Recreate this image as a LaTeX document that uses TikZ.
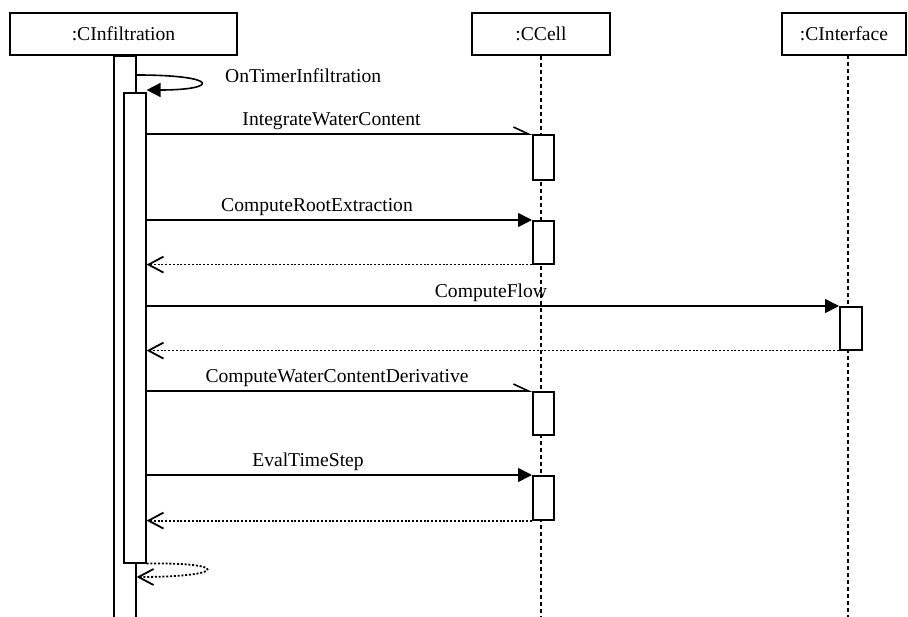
\documentclass[tikz,border=0pt]{standalone}
\usepackage{fontspec}
\setmainfont{Liberation Serif}
\usetikzlibrary{arrows.meta}
\begin{document}
\begin{tikzpicture}[x=1pt,y=-1pt,line width=1.6pt,
  obj/.style={draw,line width=1.8pt,minimum height=42pt,inner sep=0pt,font=\fontsize{19.6}{22}\selectfont},
  act/.style={draw,fill=white,line width=1.6pt,inner sep=0pt,anchor=north west},
  msg/.style={font=\fontsize{19.6}{22}\selectfont,anchor=base},
  life/.style={line width=1.6pt,dash pattern=on 4pt off 3pt},
  call/.style={-{Triangle[length=14pt,width=14pt]}},
  async/.style={-{Straight Barb[left,length=15pt,width=14pt]}},
  ret/.style={line width=1.8pt,dash pattern=on 2pt off 1.8pt,-{Straight Barb[length=15pt,width=16pt]}}]
\useasboundingbox (0,0) rectangle (908,617);
\clip (0,0) rectangle (908,617);
% objects
\node[obj,minimum width=227pt] (inf) at (123.5,34) {:CInfiltration};
\node[obj,minimum width=138pt] (cell) at (541,34) {:CCell};
\node[obj,minimum width=124pt] (itf) at (844,34) {:CInterface};
% lifelines
\draw[life] (cell.south) -- (cell.south |- 0,620);
\coordinate (itfl) at (848,55);
\draw[life] (itfl) -- (itfl |- 0,620);
% activation bars
\node[act,minimum width=22pt,minimum height=575pt] (outer) at (113,55) {};
\node[act,minimum width=22pt,minimum height=470pt] (inner) at (123,92) {};
\node[act,minimum width=21pt,minimum height=45pt] (c1) at (532,134) {};
\node[act,minimum width=21pt,minimum height=43pt] (c2) at (532,220) {};
\node[act,minimum width=22pt,minimum height=43pt] (i1) at (839,306) {};
\node[act,minimum width=21pt,minimum height=43pt] (c3) at (532,391) {};
\node[act,minimum width=21pt,minimum height=44pt] (c4) at (532,475) {};
% self call
\draw[call] (outer.east |- 0,75) .. controls (220,75) and (220,90) .. (inner.east |- 0,90);
\node[font=\fontsize{19.6}{22}\selectfont,anchor=base west] (l0) at (221,83) {OnTimerInfiltration};
% messages
\draw[async] (inner.east |- c1.north) -- (c1.north west);
\node[msg] (m1) at (331.5,126) {IntegrateWaterContent};
\draw[call] (inner.east |- c2.north) -- (c2.north west);
\node[msg] (m2) at (317,212) {ComputeRootExtraction};
\draw[ret] (c2.south west) -- (inner.east |- c2.south);
\draw[call] (inner.east |- i1.north) -- (i1.north west);
\node[msg] (m3) at (491,298) {ComputeFlow};
\draw[ret] (i1.south west) -- (inner.east |- i1.south);
\draw[async] (inner.east |- c3.north) -- (c3.north west);
\node[msg] (m4) at (337,383) {ComputeWaterContentDerivative};
\draw[call] (inner.east |- c4.north) -- (c4.north west);
\node[msg] (m5) at (308,467) {EvalTimeStep};
\draw[ret] (c4.south west) -- (inner.east |- c4.south);
% final return
\draw[ret] (inner.south east) .. controls (229,562) and (229,577) .. (outer.east |- 0,577);
\end{tikzpicture}
\end{document}
